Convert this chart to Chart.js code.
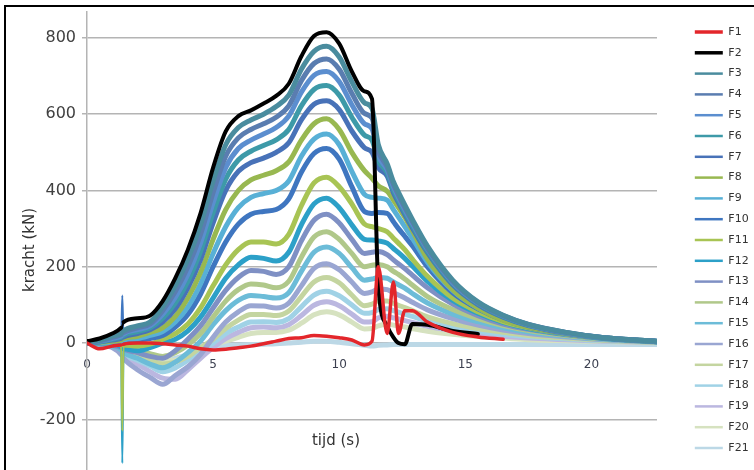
<!DOCTYPE html>
<html>
<head>
<meta charset="utf-8">
<script src="https://cdn.jsdelivr.net/npm/chart.js@4.4.0/dist/chart.umd.min.js"></script>
<style>
    html, body { margin: 0; padding: 0; overflow: hidden; background: #fff; width: 754px; height: 470px; }
    #frame { position: absolute; left: 4px; top: 5px; border-left: 2px solid #000; border-top: 2px solid #000; width: 760px; height: 500px; }
    #wrap { position: absolute; left: 0; top: 0; width: 751px; height: 481px; }
</style>
</head>
<body>
<div id="frame">
    <div id="wrap"><canvas id="forceChart"></canvas></div>
</div>
<script>
// time axis (s)
const times = [0, 0.5, 1, 1.35, 1.4, 1.45, 2, 2.5, 3, 3.5, 4, 4.5, 5, 5.5, 6, 6.5, 7, 7.5, 8, 8.5,
    9, 9.5, 10, 10.5, 11, 11.3, 11.55, 11.9, 12.15, 12.35, 12.6, 12.9, 13.5, 14.5, 15.5, 16.5, 17.5, 19, 20.5, 22.6];

// force per cell (kN)
const f1 = [0, -15, -8, -5, -5, -3, 0, 0, -2, -5, -8, -15, -18, -16, -12, -8, -2, 5, 12, 14,
    20, 18, 14, 8, -5, 5, 200, 25, 160, 25, 85, 85, 55, 28, 16, 10, null, null, null, null];
const f2 = [5, 12, 25, 40, 45, 55, 65, 72, 110, 170, 245, 340, 460, 555, 595, 610, 628, 648, 680, 752,
    805, 815, 785, 712, 660, 640, 150, 45, 15, 0, -3, 50, 48, 32, 24, null, null, null, null, null];
const f3 = [2, 8, 18, 25, 28, 32, 45, 55, 95, 150, 220, 310, 425, 520, 565, 585, 600, 620, 650, 718,
    765, 778, 750, 685, 630, 615, 520, 470, 423, 395, 362, 324, 254, 165, 108, 73, 49, 28, 14, 5];
const f4 = [2, 6, 15, 22, 25, 28, 40, 50, 85, 135, 200, 285, 395, 490, 538, 560, 575, 592, 622, 688,
    733, 745, 718, 655, 602, 590, 505, 462, 416, 388, 356, 319, 249, 162, 106, 72, 49, 28, 14, 5];
const f5 = [0, 5, 12, 18, 20, 24, 35, 45, 75, 120, 180, 262, 368, 460, 510, 532, 548, 565, 595, 658,
    702, 712, 686, 625, 575, 562, 492, 455, 410, 382, 350, 314, 246, 159, 105, 71, 48, 27, 14, 5];
const f6 = [0, 4, 10, 15, 16, 20, 30, 40, 65, 105, 162, 240, 342, 430, 480, 503, 518, 533, 560, 622,
    665, 675, 650, 592, 545, 532, 478, 447, 402, 375, 344, 308, 241, 156, 103, 69, 47, 27, 13, 4];
const f7 = [0, 3, 8, 12, 14, 16, 25, 35, 55, 90, 145, 218, 315, 400, 450, 473, 485, 500, 525, 585,
    626, 635, 612, 556, 512, 500, 460, 438, 394, 368, 337, 302, 237, 153, 101, 68, 46, 26, 13, 4];
const f8 = [0, 2, 5, 8, 10, 12, 18, 28, 40, 70, 118, 185, 272, 350, 400, 428, 440, 452, 475, 532,
    575, 588, 560, 500, 452, 432, 412, 398, 375, 355, 330, 295, 220, 140, 92, 60, 42, 26, 14, 4];
const f9 = [0, 0, 3, 5, 6, 8, 12, 20, 30, 55, 95, 155, 235, 305, 355, 382, 392, 400, 425, 490,
    535, 548, 520, 450, 390, 382, 380, 375, 350, 330, 305, 275, 212, 138, 92, 62, 43, 26, 14, 4];
const f10 = [0, 0, 2, 4, 125, 5, 8, 12, 20, 42, 75, 128, 200, 265, 312, 338, 345, 350, 378, 448,
    497, 510, 482, 410, 345, 340, 342, 340, 318, 300, 280, 255, 200, 132, 90, 61, 42, 25, 13, 4];
const f11 = [0, 0, 0, -5, -230, -5, -8, -3, 10, 25, 50, 92, 150, 205, 245, 265, 265, 260, 285, 360,
    420, 435, 410, 365, 312, 305, 300, 292, 275, 262, 245, 220, 175, 118, 82, 56, 40, 24, 13, 4];
const f12 = [0, 0, -3, -10, -315, -15, -20, -12, 0, 10, 32, 68, 118, 170, 205, 225, 222, 215, 238, 310,
    365, 380, 355, 310, 272, 270, 268, 262, 248, 237, 222, 202, 162, 112, 78, 54, 38, 23, 12, 3];
const f13 = [0, -2, -6, -12, -14, -16, -25, -35, -40, -20, 10, 45, 92, 138, 172, 190, 188, 180, 200, 268,
    322, 338, 315, 272, 235, 238, 240, 232, 218, 208, 195, 178, 145, 102, 72, 50, 36, 22, 12, 3];
const f14 = [0, -2, -5, -10, -12, -14, -20, -28, -35, -25, -5, 25, 68, 110, 140, 155, 152, 145, 162, 225,
    278, 292, 272, 235, 200, 204, 206, 200, 188, 180, 168, 152, 122, 88, 64, 46, 33, 20, 11, 3];
const f15 = [0, -3, -8, -18, -22, -25, -40, -55, -65, -50, -25, 5, 48, 85, 112, 125, 122, 118, 132, 188,
    238, 252, 235, 198, 165, 168, 172, 170, 160, 153, 144, 130, 105, 76, 56, 40, 29, 18, 10, 3];
const f16 = [0, -4, -12, -30, -35, -40, -70, -90, -108, -85, -62, -30, 15, 55, 82, 98, 97, 92, 105, 150,
    196, 208, 192, 160, 130, 134, 142, 140, 132, 126, 118, 107, 87, 64, 47, 34, 25, 16, 9, 3];
const f17 = [0, -2, -6, -14, -16, -18, -30, -45, -55, -50, -35, -12, 10, 38, 60, 75, 75, 72, 84, 122,
    160, 172, 158, 126, 98, 102, 110, 110, 104, 99, 93, 85, 69, 51, 38, 28, 20, 13, 7, 2];
const f18 = [0, -3, -8, -20, -24, -28, -45, -60, -75, -65, -45, -20, 0, 25, 42, 55, 56, 54, 64, 95,
    126, 136, 124, 100, 78, 80, 88, 90, 85, 81, 76, 70, 57, 42, 31, 23, 17, 11, 6, 2];
const f19 = [0, -3, -10, -25, -30, -34, -55, -75, -92, -95, -70, -40, -12, 12, 28, 40, 42, 40, 48, 72,
    99, 108, 98, 76, 55, 56, 66, 70, 66, 63, 59, 54, 44, 33, 25, 18, 13, 9, 5, 2];
const f20 = [0, -2, -5, -12, -14, -16, -25, -35, -45, -45, -30, -15, -5, 5, 15, 25, 28, 28, 34, 52,
    74, 82, 74, 55, 37, 38, 45, 50, 47, 45, 42, 38, 31, 23, 17, 13, 9, 6, 4, 1];
const f21 = [0, -3, -6, -12, -14, -16, -30, -40, -45, -40, -30, -18, -10, -6, -5, -4, -3, -2, 0, 2,
    5, 5, 2, -2, -6, -8, -6, -5, -4, -4, -4, -4, -4, -4, -4, -4, -4, -4, -4, -4];

const seriesNames = ['F1', 'F2', 'F3', 'F4', 'F5', 'F6', 'F7', 'F8', 'F9', 'F10', 'F11',
    'F12', 'F13', 'F14', 'F15', 'F16', 'F17', 'F18', 'F19', 'F20', 'F21'];
const seriesValues = [f1, f2, f3, f4, f5, f6, f7, f8, f9, f10, f11, f12, f13, f14, f15, f16, f17, f18, f19, f20, f21];
const yTicks = [-200, 0, 200, 400, 600, 800];
const xTicks = [0, 5, 10, 15, 20];

// colours picked from the legend
const seriesColors = ['#e3262b', '#000000', '#4a8c9e', '#5a7db0', '#5b8ecf', '#3d9aa8', '#4872b8', '#98b850',
    '#58b0d6', '#3f76c0', '#a8c454', '#2ca0c8', '#7f90c4', '#b0c88a', '#6cbcd8', '#9aa6d2', '#c4d5a0',
    '#a0d2e6', '#bbb7e0', '#d6e2c0', '#bcd8e6'];

document.addEventListener("DOMContentLoaded", function() {
    // x axis title sits well below the axis, so just paint it
    const xTitle = {
        id: 'xTitle',
        afterDraw(chart) {
            const ctx = chart.ctx;
            ctx.save();
            ctx.font = '15px "DejaVu Sans"';
            ctx.fillStyle = '#333';
            ctx.textAlign = 'center';
            ctx.textBaseline = 'middle';
            ctx.fillText('tijd (s)', 330, 434);
            ctx.restore();
        }
    };

    const datasets = seriesNames.map((name, i) => ({
        label: name,
        data: times.map((t, j) => ({ x: t, y: seriesValues[i][j] })),
        borderColor: seriesColors[i],
        backgroundColor: seriesColors[i],
        borderWidth: i === 0 ? 3.5 : (i === 1 ? 4 : 5),
        borderJoinStyle: 'round',
        borderCapStyle: 'round',
        pointRadius: 0,
        fill: false,
        cubicInterpolationMode: 'monotone',
        // the sensor spikes around 1.4 s are thin in the original
        segment: {
            borderWidth: c => (c.p0.parsed.x >= 1.35 && c.p1.parsed.x <= 1.45) ? 2 : undefined
        }
    }));

    new Chart(document.getElementById('forceChart'), {
        type: 'line',
        data: { datasets: datasets },
        plugins: [xTitle],
        options: {
            responsive: true,
            maintainAspectRatio: false,
            animation: false,
            layout: { padding: { top: 5, left: 0, right: 0, bottom: 0 } },
            plugins: {
                tooltip: { enabled: false },
                legend: {
                    position: 'right',
                    align: 'start',
                    maxWidth: 72,
                    title: { display: true, text: '', font: { size: 1 }, padding: { top: 0, bottom: 3.5 } },
                    labels: {
                        usePointStyle: true,
                        pointStyle: 'line',
                        pointStyleWidth: 28,
                        padding: 9.8,
                        color: '#333',
                        font: { family: 'DejaVu Sans', size: 11 },
                        generateLabels(chart) {
                            const items = Chart.defaults.plugins.legend.labels.generateLabels(chart);
                            items.forEach((it, i) => { it.lineWidth = i < 2 ? 3.5 : 2.5; });
                            return items;
                        }
                    }
                }
            },
            scales: {
                x: {
                    type: 'linear',
                    min: 0,
                    max: 22.6,
                    position: { y: 0 },
                    grid: { display: false, drawTicks: false },
                    border: { display: false },
                    afterBuildTicks(scale) { scale.ticks = xTicks.map(v => ({ value: v })); },
                    afterFit(scale) {
                        scale.height = 0;
                        scale.paddingLeft = 0;
                        scale.paddingRight = 0;
                    },
                    ticks: {
                        padding: 15,
                        color: '#3c4050',
                        font: { family: 'DejaVu Sans', size: 12 },
                        maxRotation: 0
                    }
                },
                y: {
                    min: -380,
                    max: 868,
                    afterFit(scale) {
                        scale.width = 81;
                        scale.paddingTop = 0;
                        scale.paddingBottom = 0;
                    },
                    afterBuildTicks(scale) { scale.ticks = yTicks.map(v => ({ value: v })); },
                    grid: { color: '#b4b4b4', lineWidth: 1.5, tickLength: 5 },
                    border: { color: '#b4b4b4', width: 1.5 },
                    ticks: {
                        padding: 6,
                        color: '#404040',
                        font: { family: 'DejaVu Sans', size: 16 }
                    },
                    title: {
                        display: true,
                        text: 'kracht (kN)',
                        color: '#333',
                        font: { family: 'DejaVu Sans', size: 15 },
                        padding: { top: 15, bottom: 0 }
                    }
                },
                // empty spacer between the plot and the legend
                gap: {
                    type: 'linear',
                    position: 'right',
                    display: true,
                    grid: { display: false },
                    border: { display: false },
                    ticks: { display: false },
                    afterFit(scale) { scale.width = 28; }
                }
            }
        }
    });
});
</script>
</body>
</html>
